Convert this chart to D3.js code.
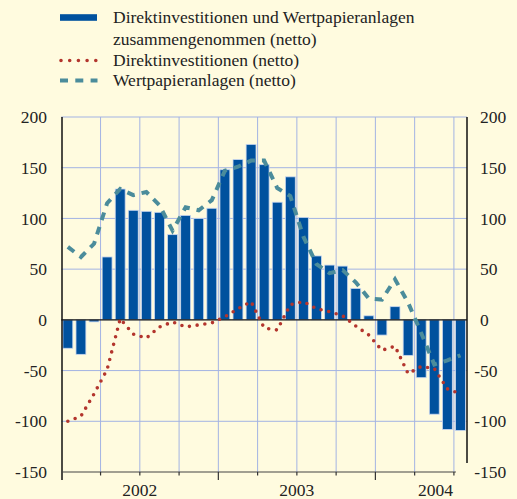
<!DOCTYPE html>
<meta charset="utf-8">
<title>Direktinvestitionen und Wertpapieranlagen</title>
<style>
body {
  margin: 0px;
  background-color: #fffbdf;
}
svg {
  display: block;
  background-color: #fffbdf;
}
.grid line {
  stroke: #a3b3e3;
  stroke-width: 1;
}
.bar {
  fill: #00519e;
  stroke: #c8d6ef;
  stroke-width: 0.8;
}
.di {
  fill: none;
  stroke: #b3352d;
  stroke-width: 3.6;
  stroke-linecap: round;
  stroke-dasharray: 0 7.8;
}
.wp {
  fill: none;
  stroke: #4b8c9b;
  stroke-width: 4;
  stroke-dasharray: 8 7;
}
</style>

<script src="https://d3js.org/d3.v7.min.js"></script>

<body>
<script>
var width = 517, height = 499;

// monthly categories, Jan 2002 - Jul 2004
var months = ["2002-01", "2002-02", "2002-03", "2002-04", "2002-05", "2002-06",
              "2002-07", "2002-08", "2002-09", "2002-10", "2002-11", "2002-12",
              "2003-01", "2003-02", "2003-03", "2003-04", "2003-05", "2003-06",
              "2003-07", "2003-08", "2003-09", "2003-10", "2003-11", "2003-12",
              "2004-01", "2004-02", "2004-03", "2004-04", "2004-05", "2004-06",
              "2004-07"];
// Direktinvestitionen und Wertpapieranlagen zusammengenommen (netto)
var combined = [-28, -34, -2, 62, 129, 108, 107, 106, 84, 103, 100, 110,
                148, 158, 173, 153, 116, 141, 101, 63, 54, 53, 31, 4,
                -15, 13, -35, -57, -93, -108, -109];
// Direktinvestitionen (netto)
var direct = [-100, -95, -73, -49, 1, -14, -18, -7, -2, -7, -5, -3,
              3, 11, 18, -8, -10, 15, 18, 11, 8, 4, -6, -15,
              -30, -26, -53, -46, -48, -68, -73];
// Wertpapieranlagen (netto)
var portfolio = [72, 62, 75, 115, 129, 123, 126, 113, 88, 111, 108, 118,
                 147, 151, 157, 157, 130, 122, 82, 55, 46, 49, 37, 21,
                 20, 40, 17, -13, -44, -40, -35];

var yTicks = [-150, -100, -50, 0, 50, 100, 150, 200];
var years = ["2002", "2003", "2004"];
var yearLabelAt = [6, 18, 28.6];   // month index where each year label sits

var legendItems = [
  {type: "bar", lines: ["Direktinvestitionen und Wertpapieranlagen", "zusammengenommen (netto)"]},
  {type: "di", lines: ["Direktinvestitionen (netto)"]},
  {type: "wp", lines: ["Wertpapieranlagen (netto)"]}
];

var svg = d3.select("body").append("svg")
    .attr("width", width)
    .attr("height", height);

var x = d3.scaleLinear()
    .domain([0, months.length])
    .range([61.3, 467]);
var y = d3.scaleLinear()
    .domain([-150, 200])
    .range([472, 117]);

var slot = x(1) - x(0);

function label(sel) {
  sel.attr("font-family", "'Liberation Serif', serif")
     .attr("font-size", "17.5px")
     .attr("fill", "#222");
}

// grid
var grid = svg.append("g").attr("class", "grid");
grid.selectAll("line.h")
    .data(yTicks.filter(function(d) { return d !== 0 && d !== -150; }))
  .enter().append("line")
    .attr("class", "h")
    .attr("x1", x(0)).attr("x2", x(months.length))
    .attr("y1", y).attr("y2", y);
grid.selectAll("line.v")
    .data(d3.range(3, months.length + 1, 3))
  .enter().append("line")
    .attr("class", "v")
    .attr("x1", x).attr("x2", x)
    .attr("y1", y(200)).attr("y2", y(-150));

// bars
svg.append("g").selectAll("rect")
    .data(combined)
  .enter().append("rect")
    .attr("class", "bar")
    .attr("x", function(d, i) { return x(i) + 1.6; })
    .attr("width", slot - 3.2)
    .attr("y", function(d) { return y(Math.max(0, d)); })
    .attr("height", function(d) { return Math.abs(y(d) - y(0)); });

// zero line
svg.append("line")
    .attr("x1", x(0)).attr("x2", x(months.length))
    .attr("y1", y(0)).attr("y2", y(0))
    .attr("stroke", "#111")
    .attr("stroke-width", 1.3);

var line = d3.line()
    .x(function(d, i) { return x(i + 0.5); })
    .y(function(d) { return y(d); });

svg.append("path").datum(portfolio).attr("class", "wp").attr("d", line);
svg.append("path").datum(direct).attr("class", "di").attr("d", line);

// axes
svg.append("line")
    .attr("x1", 62).attr("x2", 62)
    .attr("y1", y(200)).attr("y2", y(-150) + 8)
    .attr("stroke", "#111").attr("stroke-width", 1.5);
svg.append("line")
    .attr("x1", 467).attr("x2", 467)
    .attr("y1", y(200)).attr("y2", y(-150) - 9)
    .attr("stroke", "#111").attr("stroke-width", 1.5);
svg.append("line")
    .attr("x1", 62).attr("x2", x(30) + 2)
    .attr("y1", y(-150)).attr("y2", y(-150))
    .attr("stroke", "#444").attr("stroke-width", 1.2);
svg.append("g").selectAll("line")
    .data(d3.range(3, months.length + 1, 3))
  .enter().append("line")
    .attr("x1", x).attr("x2", x)
    .attr("y1", y(-150))
    .attr("y2", function(d) { return y(-150) + (d % 12 === 0 ? 8 : 3.5); })
    .attr("stroke", "#333").attr("stroke-width", 1.2);

svg.append("g").selectAll("text")
    .data(years)
  .enter().append("text")
    .call(label)
    .attr("x", function(d, i) { return x(yearLabelAt[i]); })
    .attr("y", 496)
    .attr("text-anchor", "middle")
    .text(function(d) { return d; });

svg.append("g").selectAll("text")
    .data(yTicks)
  .enter().append("text")
    .call(label)
    .attr("x", 47)
    .attr("y", y)
    .attr("dy", "0.35em")
    .attr("text-anchor", "end")
    .text(function(d) { return d; });
svg.append("g").selectAll("text")
    .data(yTicks)
  .enter().append("text")
    .call(label)
    .attr("x", function(d) { return d < 0 ? 474.2 : 480; })
    .attr("y", y)
    .attr("dy", "0.35em")
    .text(function(d) { return d; });

// legend
var baselines = [[23, 45], [66], [86]];
var legend = svg.append("g");
legendItems.forEach(function(item, i) {
  var by = baselines[i][0] - 5.5;
  if (item.type === "bar") {
    legend.append("rect").attr("x", 60).attr("y", by - 3.3)
        .attr("width", 37).attr("height", 6.6).attr("fill", "#00519e");
  } else {
    legend.append("line").attr("class", item.type)
        .attr("x1", item.type === "di" ? 61 : 60).attr("x2", 97.5)
        .attr("y1", by).attr("y2", by)
        .style("stroke-dasharray", item.type === "di" ? "0 8.7" : "8 7.3");
  }
  item.lines.forEach(function(t, j) {
    legend.append("text").call(label)
        .attr("x", 113).attr("y", baselines[i][j])
        .text(t);
  });
});
</script>
